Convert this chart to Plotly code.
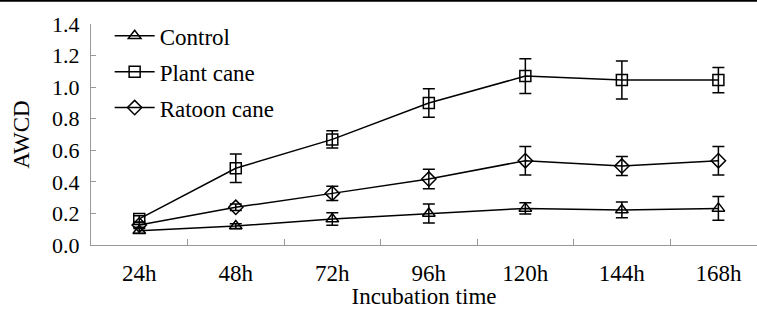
import plotly.graph_objects as go

categories = ["24h", "48h", "72h", "96h", "120h", "144h", "168h"]
control = [0.09, 0.12, 0.165, 0.20, 0.232, 0.222, 0.232]
control_err = [0.015, 0.015, 0.04, 0.06, 0.035, 0.05, 0.075]
plant = [0.165, 0.486, 0.669, 0.90, 1.07, 1.045, 1.045]
plant_err = [0.02, 0.09, 0.055, 0.09, 0.11, 0.12, 0.08]
ratoon = [0.127, 0.239, 0.327, 0.418, 0.534, 0.50, 0.534]
ratoon_err = [0.015, 0.02, 0.045, 0.062, 0.09, 0.06, 0.09]
y_ticks = [0.0, 0.2, 0.4, 0.6, 0.8, 1.0, 1.2, 1.4]

FONT = "Liberation Serif"
fig = go.Figure()
series = [
    ("Control", control, control_err, "triangle-up-open"),
    ("Plant cane", plant, plant_err, "square-open"),
    ("Ratoon cane", ratoon, ratoon_err, "diamond-open"),
]
for name, vals, errs, sym in series:
    fig.add_trace(go.Scatter(
        x=categories, y=vals, name=name, mode="lines+markers", legendgroup=name,
        line=dict(color="black", width=1.5),
        marker=dict(symbol=sym, size=11, color="black", line=dict(width=1.5, color="black")),
        error_y=dict(type="data", array=errs, visible=True, color="black", thickness=1.5, width=6),
    ))

fig.update_layout(
    width=757, height=309,
    margin=dict(l=91, r=0, t=24, b=64, autoexpand=False),
    paper_bgcolor="white", plot_bgcolor="white",
    font=dict(family=FONT, color="black", size=23),
    showlegend=True,
    legend=dict(x=0.028, y=1.044, xanchor="left", yanchor="top",
                font=dict(family=FONT, size=23, color="black"), bgcolor="rgba(0,0,0,0)",
                tracegroupgap=3, itemwidth=40),
    xaxis=dict(
        type="category", range=[-0.5, 6.4], showgrid=False, automargin=False,
        showline=True, linecolor="#999999", linewidth=1,
        ticks="inside", tickson="boundaries", ticklen=6, tickcolor="#999999",
        tickfont=dict(family=FONT, size=23, color="black"), ticklabelstandoff=7,
        title=dict(text="Incubation time", font=dict(family=FONT, size=23, color="black"), standoff=4),
    ),
    yaxis=dict(
        range=[0, 1.4], tickvals=y_ticks, ticktext=[f"{v:.1f}" for v in y_ticks],
        showgrid=False, zeroline=False, automargin=False,
        showline=True, linecolor="#999999", linewidth=1,
        ticks="inside", ticklen=5, tickcolor="#999999",
        tickfont=dict(family=FONT, size=22, color="black"), ticklabelstandoff=6,
        title=dict(text="AWCD", font=dict(family=FONT, size=23, color="black"), standoff=16),
    ),
    shapes=[dict(type="line", xref="paper", yref="paper",
                 x0=-91/666, x1=1, y0=(245-0.8)/221, y1=(245-0.8)/221,
                 line=dict(color="black", width=2))],
)

post = """
function fixFonts(){
  document.querySelectorAll('text, tspan').forEach(function(t){
    t.style.setProperty('font-family', "'Liberation Serif', 'DejaVu Serif', serif", 'important');
  });
}
fixFonts();
var gd = document.getElementById('{plot_id}');
if (gd && gd.on) { gd.on('plotly_afterplot', fixFonts); }
"""
fig.write_html("out.html", config={"displayModeBar": False}, post_script=post)

with open("out.html", encoding="utf-8") as f:
    html = f.read()
css = ("<style>html,body{margin:0;padding:0;overflow:hidden;}"
       "svg text, svg tspan{font-family:'Liberation Serif','DejaVu Serif',serif !important;}</style>")
html = html.replace("<head>", "<head>" + css, 1)
with open("out.html", "w", encoding="utf-8") as f:
    f.write(html)
